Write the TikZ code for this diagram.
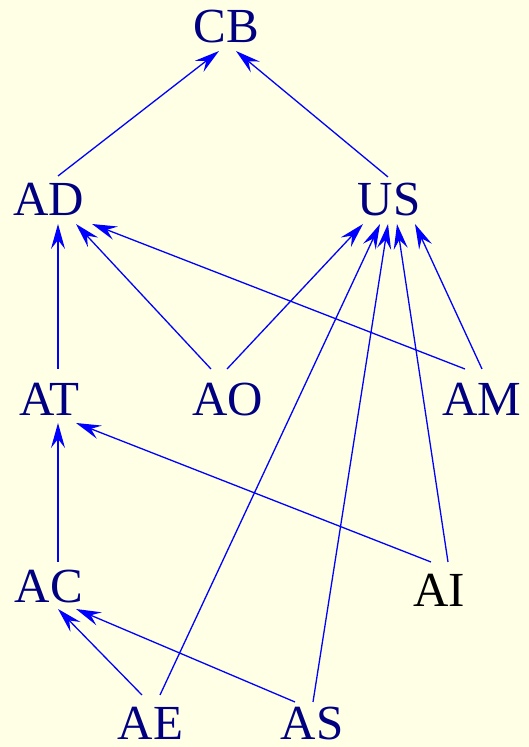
\documentclass[tikz,border=0pt]{standalone}
\usepackage{fontspec}
\setmainfont{Liberation Serif}
\usetikzlibrary{arrows.meta,calc}

\definecolor{paper}{HTML}{FFFFE6}
\definecolor{labelnavy}{HTML}{000080}
\definecolor{edgeblue}{HTML}{0000FF}

\tikzset{
  lbl/.style={anchor=base, inner sep=0pt, text=labelnavy,
              font=\fontsize{49}{49}\selectfont},
  edge/.style={draw=edgeblue, line width=1.3pt,
               -{Stealth[length=25pt, width=14pt, inset=9pt]}}
}

\begin{document}
\begin{tikzpicture}[x=1pt, y=1pt]
  % canvas
  \fill[paper] (0,0) rectangle (529,747);
  \useasboundingbox (0,0) rectangle (529,747);

  % labels, placed by their baselines
  \node[lbl] (CB) at (226.5,704) {CB};
  \node[lbl] (AD) at (49,531)    {AD};
  \node[lbl] (US) at (389,531)   {US};
  \node[lbl] (AT) at (49.5,331)  {AT};
  \node[lbl] (AO) at (228,331)   {AO};
  \node[lbl] (AM) at (482,331)   {AM};
  \node[lbl] (AC) at (49,144)    {AC};
  \node[lbl, text=black] (AI) at (439,140) {AI};
  \node[lbl] (AE) at (150.5,7)   {AE};
  \node[lbl] (AS) at (312,7)     {AS};

  % edges to CB
  \draw[edge] ($(AD.base)+(9,40)$)    -- ($(CB.base)+(-7.5,-8)$);
  \draw[edge] ($(US.base)+(-1,39)$)   -- ($(CB.base)+(9.5,-8)$);

  % edges to AD
  \draw[edge] ($(AT.base)+(8.5,47)$)  -- ($(AD.base)+(9,-8)$);
  \draw[edge] ($(AO.base)+(-17,47)$)  -- ($(AD.base)+(27,-8)$);
  \draw[edge] ($(AM.base)+(-17,47)$)  -- ($(AD.base)+(43,-8)$);

  % edges to US
  \draw[edge] ($(AO.base)+(-1,47)$)   -- ($(US.base)+(-26,-8)$);
  \draw[edge] ($(AE.base)+(9.5,45)$)  -- ($(US.base)+(-9,-8)$);
  \draw[edge] ($(AS.base)+(1,38)$)    -- ($(US.base)+(-1,-8)$);
  \draw[edge] ($(AI.base)+(9,45)$)    -- ($(US.base)+(8,-8)$);
  \draw[edge] ($(AM.base)+(0,47)$)    -- ($(US.base)+(26,-8)$);

  % edges to AT
  \draw[edge] ($(AI.base)+(-8,45)$)   -- ($(AT.base)+(26.5,-7)$);
  \draw[edge] ($(AC.base)+(9,41)$)    -- ($(AT.base)+(8.5,-7)$);

  % edges to AC
  \draw[edge] ($(AE.base)+(-8.5,45)$) -- ($(AC.base)+(9,-6)$);
  \draw[edge] ($(AS.base)+(-17,38)$)  -- ($(AC.base)+(27,-6)$);
\end{tikzpicture}
\end{document}
